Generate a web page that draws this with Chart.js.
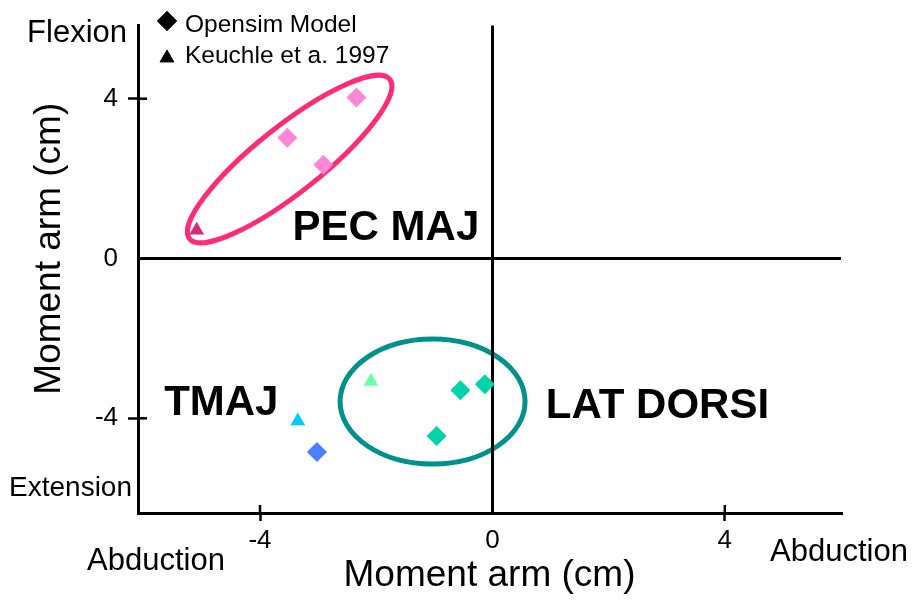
<!DOCTYPE html>
<html>
<head>
<meta charset="utf-8">
<title>Moment arm</title>
<script src="https://cdn.jsdelivr.net/npm/chart.js@4.4.1/dist/chart.umd.min.js"></script>
<style>
  html, body { margin: 0; padding: 0; background: #fff; }
  #wrap { width: 913px; height: 600px; position: relative; }
</style>
</head>
<body>
<div id="wrap"><canvas id="myChart"></canvas></div>
<script>
'use strict';
// datos (cm): x = abduccion, y = flexion
const pecModelX = [-2.34, -3.53, -2.91];
const pecModelY = [4.03, 3.02, 2.35];
const pecKeuchleX = [-5.09];
const pecKeuchleY = [0.71];

const latModelX = [-0.13, -0.55, -0.96];
const latModelY = [-3.15, -3.30, -4.44];
const latKeuchleX = [-2.09];
const latKeuchleY = [-3.08];

const tmajModelX = [-3.02];
const tmajModelY = [-4.84];
const tmajKeuchleX = [-3.35];
const tmajKeuchleY = [-4.07];

const tickValues = [-4, 0, 4];
const legendLabels = ['Opensim Model', 'Keuchle et a. 1997'];

const FONT = '"Liberation Sans", Arial, Helvetica, sans-serif';

const toPoints = (xs, ys) => xs.map((x, i) => ({ x: x, y: ys[i] }));

const serie = (label, xs, ys, style, color) => ({
    label: label,
    data: toPoints(xs, ys),
    pointStyle: style,
    pointRadius: style === 'rectRot' ? 10 : 8.5,
    pointHoverRadius: style === 'rectRot' ? 10 : 8.5,
    pointBorderWidth: 0,
    backgroundColor: color,
    borderColor: color,
    showLine: false
});

// elipses y etiquetas (coordenadas en unidades de los ejes)
const ellipses = [
    { cx: -3.49, cy: 2.49, rx: 128, ry: 33, rot: -38.5, color: '#FF2C78' },
    { cx: -1.03, cy: -3.58, rx: 92.5, ry: 62.5, rot: 0, color: '#00918C' }
];
const muscleTags = [
    { text: 'PEC MAJ', x: -3.44, y: 0.46 },
    { text: 'TMAJ', x: -5.65, y: -3.92 },
    { text: 'LAT DORSI', x: 0.92, y: -4.0 }
];

const extras = {
    id: 'extras',
    beforeDraw(chart) {
        const { ctx, scales: { x, y } } = chart;
        ellipses.forEach(e => {
            ctx.save();
            ctx.beginPath();
            ctx.ellipse(x.getPixelForValue(e.cx), y.getPixelForValue(e.cy), e.rx, e.ry,
                e.rot * Math.PI / 180, 0, 2 * Math.PI);
            ctx.lineWidth = 5;
            ctx.strokeStyle = e.color;
            ctx.stroke();
            ctx.restore();
        });
    },
    afterDraw(chart) {
        const { ctx, chartArea: area, scales: { x, y } } = chart;
        ctx.save();
        // parte interior de las marcas de los ejes
        ctx.strokeStyle = '#000';
        ctx.lineWidth = 2.5;
        tickValues.filter(v => v !== 0).forEach(v => {
            const px = x.getPixelForValue(v);
            ctx.beginPath();
            ctx.moveTo(px, area.bottom);
            ctx.lineTo(px, area.bottom - 8);
            ctx.stroke();
            const py = y.getPixelForValue(v);
            ctx.beginPath();
            ctx.moveTo(area.left, py);
            ctx.lineTo(area.left + 9, py);
            ctx.stroke();
        });

        // nombres de los musculos
        ctx.fillStyle = '#000';
        ctx.textBaseline = 'alphabetic';
        ctx.textAlign = 'left';
        ctx.font = 'bold 42px ' + FONT;
        muscleTags.forEach(t => {
            ctx.fillText(t.text, x.getPixelForValue(t.x), y.getPixelForValue(t.y));
        });

        // textos de direccion
        ctx.font = '31px ' + FONT;
        ctx.textAlign = 'right';
        ctx.fillText('Flexion', area.left - 11, 42);
        ctx.font = '28px ' + FONT;
        ctx.fillText('Extension', area.left - 6, 496);
        ctx.font = '31px ' + FONT;
        ctx.textAlign = 'left';
        ctx.fillText('Abduction', 87, 570);
        ctx.fillText('Abduction', 770, 561);

        // leyenda
        ctx.font = '24.5px ' + FONT;
        const styles = ['rectRot', 'triangle'];
        const rows = [21, 58];
        const bases = [31.5, 63];
        legendLabels.forEach((lbl, i) => {
            Chart.helpers.drawPoint(ctx, {
                pointStyle: styles[i],
                radius: i === 0 ? 10 : 8.5,
                borderWidth: 0,
                rotation: 0
            }, 167, rows[i]);
            ctx.fillStyle = '#000';
            ctx.fill();
            ctx.fillText(lbl, 185, bases[i]);
        });
        ctx.restore();
    }
};

const lineOnZero = c => (c.tick && c.tick.value === 0 ? '#000' : 'rgba(0,0,0,0)');
const tickOffZero = c => (c.tick && c.tick.value === 0 ? 'rgba(0,0,0,0)' : '#000');

const ctx = document.getElementById('myChart');
const myChart = new Chart(ctx.getContext('2d'), {
    type: 'scatter',
    data: {
        datasets: [
            serie('PEC MAJ - Opensim', pecModelX, pecModelY, 'rectRot', '#FF88D8'),
            serie('PEC MAJ - Keuchle', pecKeuchleX, pecKeuchleY, 'triangle', '#D42A7E'),
            serie('LAT DORSI - Opensim', latModelX, latModelY, 'rectRot', '#00D3A7'),
            serie('LAT DORSI - Keuchle', latKeuchleX, latKeuchleY, 'triangle', '#70FFA8'),
            serie('TMAJ - Opensim', tmajModelX, tmajModelY, 'rectRot', '#4A80FF'),
            serie('TMAJ - Keuchle', tmajKeuchleX, tmajKeuchleY, 'triangle', '#00CCFF')
        ]
    },
    options: {
        responsive: true,
        maintainAspectRatio: false,
        animation: false,
        layout: { padding: { top: 20, right: 72, bottom: 0, left: 0 } },
        plugins: {
            legend: { display: false },
            tooltip: { enabled: false }
        },
        scales: {
            x: {
                type: 'linear',
                min: -6.1,
                max: 6,
                afterFit: scale => { scale.height = 87; },
                afterBuildTicks: scale => { scale.ticks = tickValues.map(v => ({ value: v })); },
                ticks: {
                    color: '#000',
                    padding: 4,
                    font: { family: FONT, size: 26 },
                    callback: v => String(v)
                },
                grid: {
                    color: lineOnZero,
                    lineWidth: 3,
                    tickColor: tickOffZero,
                    tickWidth: 2.5,
                    tickLength: 8
                },
                border: { display: true, color: '#000', width: 3 },
                title: {
                    display: true,
                    text: 'Moment arm (cm)',
                    color: '#000',
                    font: { family: FONT, size: 37 },
                    padding: { top: 0, bottom: 2 }
                }
            },
            y: {
                type: 'linear',
                min: -6.37,
                max: 5.83,
                afterFit: scale => { scale.width = 138; },
                afterBuildTicks: scale => { scale.ticks = tickValues.map(v => ({ value: v })); },
                ticks: {
                    color: '#000',
                    padding: 10,
                    font: { family: FONT, size: 26 },
                    callback: v => String(v)
                },
                grid: {
                    color: lineOnZero,
                    lineWidth: 3,
                    tickColor: tickOffZero,
                    tickWidth: 2.5,
                    tickLength: 10
                },
                border: { display: true, color: '#000', width: 3 },
                title: {
                    display: true,
                    text: '    Moment arm (cm)',
                    color: '#000',
                    font: { family: FONT, size: 37 },
                    padding: { top: 28, bottom: 0 }
                }
            }
        }
    },
    plugins: [extras]
});
</script>
</body>
</html>
